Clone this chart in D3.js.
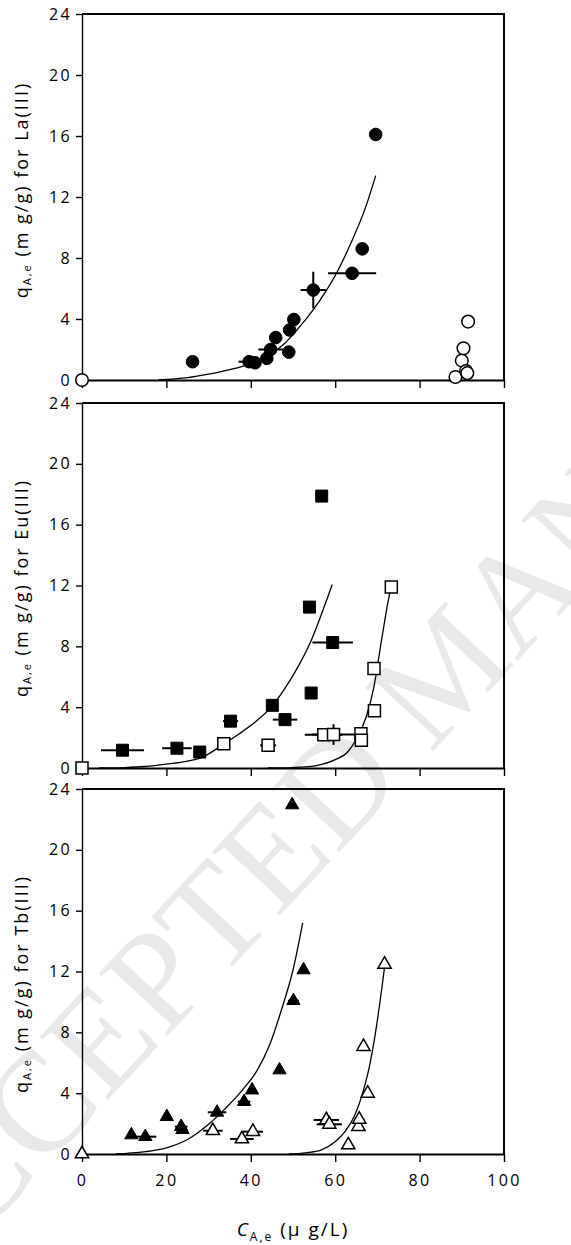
<!DOCTYPE html>
<html>
<head>
<meta charset="utf-8">
<script src="https://cdn.jsdelivr.net/npm/d3@7"></script>
<style>
  body { margin: 0; background: #fff; }
</style>
</head>
<body>
<div id="chart"></div>
<script>
const xTicks = [0, 20, 40, 60, 80, 100];
const yTicks = [0, 4, 8, 12, 16, 20, 24];

// points: [C_A,e, q_A,e, xErr, yErr]
const laFilled = [
  [26.2, 1.2], [39.6, 1.2, 2.5], [41.0, 1.13], [43.8, 1.42], [44.7, 2.0, 2.9],
  [45.9, 2.78], [49.0, 1.83], [49.2, 3.28, 1.2], [50.2, 3.97], [54.8, 5.9, 3, 1.2],
  [64.0, 7.0, 5.7], [66.4, 8.6], [69.6, 16.1]
];
const laOpen = [
  [0, 0], [88.5, 0.2], [90.0, 1.27], [90.4, 2.08], [91.0, 0.59], [91.3, 0.45], [91.5, 3.83]
];
const laFit = [
  [18, 0], [25, 0.15], [30, 0.38], [35, 0.68], [40, 1.08], [45, 1.75], [48, 2.4],
  [51.3, 3.4], [54.9, 4.65], [57.5, 5.7], [60.4, 7.05], [63.6, 8.9], [67.3, 11.4], [69.6, 13.4]
];

const euFilled = [
  [9.6, 1.17, 5.1], [22.5, 1.3, 3.5], [27.9, 1.05], [35.2, 3.08, 1.8], [45.1, 4.12],
  [48.1, 3.18, 2.9], [53.9, 10.58], [54.3, 4.93], [56.8, 17.88], [59.4, 8.25, 4.8]
];
const euOpen = [
  [0, 0], [33.6, 1.6, 1], [44.1, 1.49, 1.9], [57.3, 2.19, 4.5], [59.6, 2.2, 5, 0.68],
  [66.1, 2.26], [66.2, 1.82], [69.3, 3.77], [69.2, 6.54], [73.3, 11.9]
];
const euFitFilled = [
  [4, 0], [10, 0.03], [15, 0.1], [20, 0.25], [25, 0.45], [28, 0.65], [33.5, 1.55],
  [37, 2.2], [41.4, 3.1], [45.2, 4.12], [48, 5.2], [50.8, 6.47], [54.4, 8.44], [57, 10.3], [59.3, 12.06]
];
const euFitOpen = [
  [44, 0], [50, 0.03], [54.4, 0.1], [57, 0.25], [60, 0.55], [63.1, 1.1], [64.9, 1.86],
  [67.4, 3.4], [69.2, 5.37], [71, 8.44], [72.3, 10.6], [73.2, 11.9]
];

const tbFilled = [
  [11.7, 1.25], [15.0, 1.14, 2.6], [20.1, 2.45], [23.5, 1.8, 1.5], [23.8, 1.6],
  [32.0, 2.74, 2.2], [38.4, 3.44, 1.5], [40.3, 4.2, 1], [46.8, 5.52], [49.8, 22.95],
  [50.1, 10.08, 1.3], [52.5, 12.1]
];
const tbOpen = [
  [0, 0], [31.0, 1.53, 2.3], [37.9, 0.99, 2.8], [40.5, 1.47, 2.4], [57.9, 2.24, 3, 0.5],
  [58.6, 1.95, 3], [63.1, 0.59], [65.5, 1.8], [65.7, 2.28, 1.2], [66.7, 7.06],
  [67.7, 3.99], [71.7, 12.47]
];
const tbFitFilled = [
  [8, 0], [10, 0.03], [15, 0.15], [20, 0.4], [25, 0.95], [30, 1.95], [34, 3.0],
  [38, 4.2], [41.5, 5.5], [44.5, 7.2], [47.4, 9.6], [50, 12.1], [52.3, 15.2]
];
const tbFitOpen = [
  [49, 0], [53, 0.08], [56.6, 0.26], [60, 0.8], [62.3, 1.47], [64.5, 2.46],
  [66.7, 4.2], [68.1, 5.75], [69.5, 7.9], [71, 10.8], [71.7, 12.3]
];

const panels = [
  { metal: "La(III)", top: 14, bottom: 380, labelY: 190, symbol: d3.symbolCircle, size: 125,
    filled: laFilled, open: laOpen, fits: [laFit] },
  { metal: "Eu(III)", top: 403, bottom: 768, labelY: 588, symbol: d3.symbolSquare, size: 144,
    filled: euFilled, open: euOpen, fits: [euFitFilled, euFitOpen] },
  { metal: "Tb(III)", top: 789, bottom: 1154, labelY: 984, symbol: d3.symbolTriangle, size: 76,
    filled: tbFilled, open: tbOpen, fits: [tbFitFilled, tbFitOpen] }
];

const width = 571, height = 1245;
const font = "'Open Sans', sans-serif";

const svg = d3.select("#chart").append("svg")
  .attr("width", width)
  .attr("height", height)
  .style("font-family", font);

// watermark
svg.append("text")
  .attr("transform", "translate(445,668) rotate(-47)")
  .attr("text-anchor", "middle")
  .attr("dominant-baseline", "central")
  .style("font-family", "'Liberation Serif', serif")
  .style("font-size", "142px")
  .attr("fill", "#e8e8e8")
  .text("ACCEPTED MANUSCRIPT");

const x = d3.scaleLinear().domain([0, 100]).range([82, 504]);

panels.forEach((p, i) => {
  const y = d3.scaleLinear().domain([0, 24]).range([p.bottom, p.top]);
  const g = svg.append("g");

  // top + right frame
  g.append("path")
    .attr("d", `M${x(0)},${y(24)}H${x(100)}V${y(0)}`)
    .attr("fill", "none")
    .attr("stroke", "#000")
    .attr("stroke-width", 2);

  const yAxis = g.append("g")
    .attr("transform", `translate(${x(0)},0)`)
    .call(d3.axisLeft(y).tickValues(yTicks).tickSize(6).tickSizeOuter(0).tickPadding(4));

  const xAxis = g.append("g")
    .attr("transform", `translate(0,${y(0)})`)
    .call(d3.axisBottom(x).tickValues(xTicks).tickSize(8).tickSizeOuter(0).tickPadding(13)
      .tickFormat(i === 2 ? d3.format("d") : () => ""));

  [yAxis, xAxis].forEach((a) => {
    a.selectAll("text")
      .style("font-family", font)
      .style("font-size", "16px")
      .style("letter-spacing", "2.4px")
      .attr("fill", "#000");
    a.selectAll("line").attr("stroke-width", 1.4);
  });
  yAxis.select(".domain").attr("stroke-width", 1.4);
  xAxis.select(".domain").attr("stroke-width", 1.9);

  // y label
  const lab = g.append("text")
    .attr("transform", `translate(21,${p.labelY}) rotate(-90)`)
    .attr("text-anchor", "middle")
    .attr("dominant-baseline", "central")
    .style("font-size", "18px")
    .style("letter-spacing", "2px");
  lab.append("tspan").text("q");
  lab.append("tspan").attr("dy", 5).style("font-size", "11px").text("A,e");
  lab.append("tspan").attr("dy", -5).text(" (m g/g) for " + p.metal);

  // fitted curves
  const line = d3.line().x((d) => x(d[0])).y((d) => y(d[1])).curve(d3.curveMonotoneX);
  p.fits.forEach((f) => {
    g.append("path")
      .attr("d", line(f))
      .attr("fill", "none")
      .attr("stroke", "#000")
      .attr("stroke-width", 1.3);
  });

  // error bars
  const pts = p.filled.concat(p.open);
  pts.filter((d) => d[2]).forEach((d) => {
    g.append("line")
      .attr("x1", x(d[0] - d[2])).attr("x2", x(d[0] + d[2]))
      .attr("y1", y(d[1])).attr("y2", y(d[1]))
      .attr("stroke", "#000").attr("stroke-width", 2);
  });
  pts.filter((d) => d[3]).forEach((d) => {
    g.append("line")
      .attr("x1", x(d[0])).attr("x2", x(d[0]))
      .attr("y1", y(d[1] - d[3])).attr("y2", y(d[1] + d[3]))
      .attr("stroke", "#000").attr("stroke-width", 2);
  });

  const sym = d3.symbol().type(p.symbol).size(p.size);

  g.append("g").selectAll("path")
    .data(p.filled)
    .join("path")
    .attr("transform", (d) => `translate(${x(d[0])},${y(d[1])})`)
    .attr("d", sym)
    .attr("fill", "#000")
    .attr("stroke", "#000")
    .attr("stroke-width", 1);

  g.append("g").selectAll("path")
    .data(p.open)
    .join("path")
    .attr("transform", (d) => `translate(${x(d[0])},${y(d[1])})`)
    .attr("d", sym)
    .attr("fill", "#fff")
    .attr("stroke", "#000")
    .attr("stroke-width", 1.5);
});

// x title
const xt = svg.append("text")
  .attr("x", x(50))
  .attr("y", 1236)
  .attr("text-anchor", "middle")
  .style("font-size", "19px")
  .style("letter-spacing", "2px");
xt.append("tspan").style("font-style", "italic").text("C");
xt.append("tspan").attr("dy", 5).style("font-size", "12px").text("A,e");
xt.append("tspan").attr("dy", -5).text(" (\u00b5 g/L)");
</script>
</body>
</html>
